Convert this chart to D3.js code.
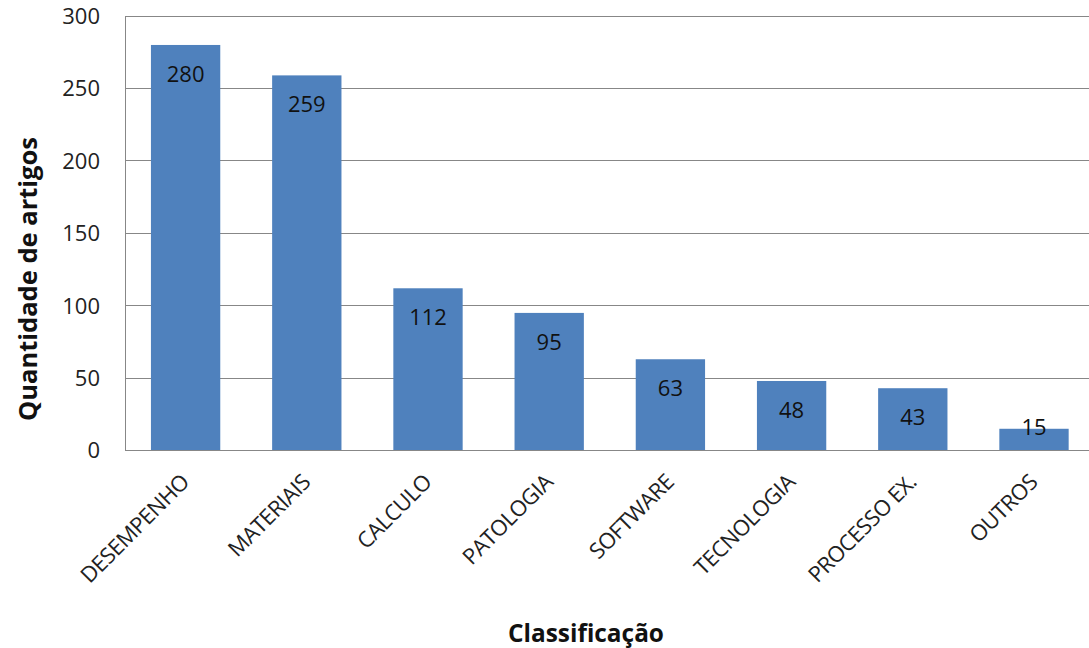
<!DOCTYPE html>
<html><head><meta charset="utf-8">
<script src="https://cdn.jsdelivr.net/npm/d3@7"></script>
<style>body{margin:0;background:#fff}svg{display:block}</style>
</head><body><svg id="c" width="1089" height="648"></svg>
<script>
const categories = ["DESEMPENHO","MATERIAIS","CALCULO","PATOLOGIA","SOFTWARE","TECNOLOGIA","PROCESSO EX.","OUTROS"];
const values = [280,259,112,95,63,48,43,15];
const yTicks = [0,50,100,150,200,250,300];
const yTitle = "Quantidade de artigos";
const xTitle = "Classificação";

(function(){
const svg = d3.select("#c");
const font = "'Open Sans', sans-serif";
const pL = 125, pR = 1094.6, pT = 16, pB = 450.5;
const x = d3.scaleBand().domain(categories).range([pL, pR]).paddingInner(0.428).paddingOuter(0.214);
const y = d3.scaleLinear().domain([0,300]).range([pB, pT]);

// gridlines
svg.append("g").selectAll("line").data(yTicks.filter(d=>d>0)).join("line")
  .attr("x1", pL).attr("x2", 1089).attr("y1", d=>y(d)).attr("y2", d=>y(d))
  .attr("stroke", "#878787").attr("stroke-width", 1).attr("shape-rendering","crispEdges");

// bars
svg.append("g").selectAll("rect").data(values).join("rect")
  .attr("x", (d,i)=>x(categories[i])).attr("width", x.bandwidth())
  .attr("y", d=>y(d)).attr("height", d=>pB - y(d))
  .attr("fill", "#4f81bd");

// axes lines
svg.append("line").attr("x1", pL).attr("x2", pL).attr("y1", pT).attr("y2", pB)
  .attr("stroke", "#878787").attr("shape-rendering","crispEdges");
svg.append("line").attr("x1", pL).attr("x2", 1089).attr("y1", pB).attr("y2", pB)
  .attr("stroke", "#878787").attr("shape-rendering","crispEdges");

// y tick labels
svg.append("g").selectAll("text").data(yTicks).join("text")
  .attr("x", 100).attr("y", d=>y(d)).attr("dy", "0.36em")
  .attr("text-anchor", "end").attr("font-family", font).attr("font-size", 22)
  .attr("fill", "#222").text(d=>d);

// value labels
svg.append("g").selectAll("text").data(values).join("text")
  .attr("x", (d,i)=>x(categories[i]) + x.bandwidth()/2)
  .attr("y", d=>Math.min(y(d)+29, pB-23)).attr("dy", "0.36em")
  .attr("text-anchor", "middle").attr("font-family", font).attr("font-size", 22)
  .attr("fill", "#111").text(d=>d);

// x tick labels
svg.append("g").selectAll("text").data(categories).join("text")
  .attr("transform", d=>`translate(${x(d)+x.bandwidth()/2+5},${pB+33}) rotate(-45)`)
  .attr("text-anchor", "end").attr("font-family", font).attr("font-size", 22)
  .attr("letter-spacing", "-0.5px")
  .attr("fill", "#222").text(d=>d);

// titles
svg.append("text").attr("transform", "translate(28,279) rotate(-90)")
  .attr("text-anchor","middle").attr("dy","0.36em").attr("font-family", font).attr("font-size", 25.5).attr("font-weight","bold")
  .attr("fill","#111").text(yTitle);
svg.append("text").attr("x", 586).attr("y", 633).attr("dy","0.36em")
  .attr("text-anchor","middle").attr("font-family", font).attr("font-size", 24.4).attr("font-weight","bold")
  .attr("fill","#111").text(xTitle);
})();
</script></body></html>
